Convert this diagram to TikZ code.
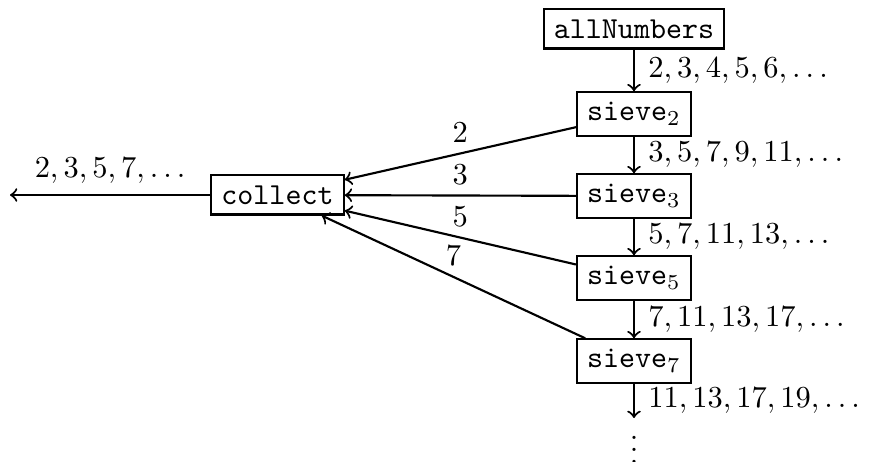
\documentclass[tikz,border=0pt]{standalone}
\begin{document}
\begin{tikzpicture}[x=0.328pt,y=-0.328pt,
  box/.style={draw,line width=0.7pt,font=\ttfamily},
  flow/.style={->,line width=0.7pt}]
\useasboundingbox (0,0) rectangle (869,462);
\node[box] (all) at (634,29) {allNumbers};
\node[box] (s2) at (634,114) {sieve$_2$};
\node[box] (s3) at (634,196) {sieve$_3$};
\node[box] (s5) at (634,278) {sieve$_5$};
\node[box] (s7) at (634,361) {sieve$_7$};
\node[box] (col) at (277.5,195) {collect};
\coordinate (end) at (634,418);
\node[inner sep=0pt] (dots) at (634,440.5) {$\vdots$};
\coordinate (out) at (10,195);
\draw[flow] (all) -- node[right,xshift=1pt] {$2,3,4,5,6,\ldots$} (s2);
\draw[flow] (s2) -- node[right,xshift=1pt] {$3,5,7,9,11,\ldots$} (s3);
\draw[flow] (s3) -- node[right,xshift=1pt] {$5,7,11,13,\ldots$} (s5);
\draw[flow] (s5) -- node[right,xshift=1pt] {$7,11,13,17,\ldots$} (s7);
\draw[flow] (s7) -- node[right,xshift=1pt] {$11,13,17,19,\ldots$} (end);
\draw[flow] (s2) -- node[above] {$2$} (col);
\draw[flow] (s3) -- node[above] {$3$} (col);
\draw[flow] (s5) -- node[above] {$5$} (col);
\draw[flow] (s7) -- node[above] {$7$} (col);
\draw[flow] (col) -- node[above] {$2,3,5,7,\ldots$} (out);
\end{tikzpicture}
\end{document}
